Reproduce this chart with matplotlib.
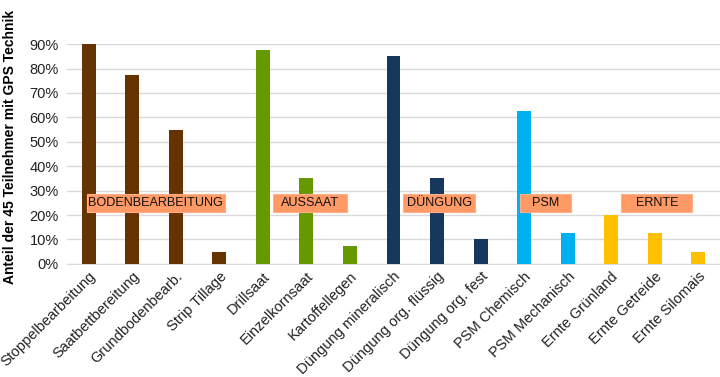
import matplotlib
matplotlib.use("Agg")
import matplotlib.pyplot as plt
from matplotlib.ticker import FuncFormatter
from matplotlib.patches import Rectangle

plt.rcParams['font.family'] = ['Liberation Sans', 'DejaVu Sans']

categories = ["Stoppelbearbeitung", "Saatbettbereitung", "Grundbodenbearb.", "Strip Tillage",
              "Drillsaat", "Einzelkornsaat", "Kartoffellegen",
              "Düngung mineralisch", "Düngung org. flüssig", "Düngung org. fest",
              "PSM Chemisch", "PSM Mechanisch",
              "Ernte Grünland", "Ernte Getreide", "Ernte Silomais"]
values = [0.90, 0.775, 0.55, 0.05,
          0.875, 0.35, 0.075,
          0.85, 0.35, 0.10,
          0.625, 0.125,
          0.20, 0.125, 0.05]
groups = ["BODENBEARBEITUNG", "AUSSAAT", "DÜNGUNG", "PSM", "ERNTE"]
group_sizes = [4, 3, 3, 2, 3]
group_colors = ["#663300", "#669900", "#17375E", "#00B0F0", "#FFC000"]
group_label_x = [1.54, 5.08, 8.05, 10.49, 13.05]
group_box_w = [3.17, 1.70, 1.66, 1.17, 1.63]
group_label_y = 0.25
box_h = 0.074

colors = []
for c, n in zip(group_colors, group_sizes):
    colors += [c] * n

fig = plt.figure(figsize=(7.2, 3.77), dpi=100)
ax = fig.add_axes([0.093, 0.30, 0.907, 0.583])

x = list(range(len(categories)))
ax.bar(x, values, width=0.32, color=colors, zorder=3)

ax.set_xlim(-0.5, len(categories) - 0.5)
ax.set_ylim(0, 0.9)
ax.set_yticks([i / 10 for i in range(10)])
ax.yaxis.set_major_formatter(FuncFormatter(lambda v, p: f"{v*100:.0f}%"))
ax.grid(axis='y', color='#D9D9D9', linewidth=1, zorder=0)
ax.set_axisbelow(True)
for s in ['top', 'right', 'left']:
    ax.spines[s].set_visible(False)
ax.spines['bottom'].set_color('#D9D9D9')
ax.tick_params(axis='both', length=0, labelsize=10.5, colors='#222222')
ax.tick_params(axis='y', pad=6)
ax.set_xticks(x)
ax.set_xticklabels(categories, rotation=45, ha='right', rotation_mode='anchor')
ax.tick_params(axis='x', pad=4)

ax.set_ylabel("Anteil der 45 Teilnehmer mit GPS Technik", fontsize=10,
              fontweight='bold')
ax.yaxis.set_label_coords(-0.077, 0.53)

for g, gx, gw in zip(groups, group_label_x, group_box_w):
    ax.add_patch(Rectangle((gx - gw / 2, group_label_y - box_h / 2), gw, box_h,
                           facecolor='#FF9966', edgecolor='#FFB08A', linewidth=0.8,
                           zorder=5))
    ax.text(gx, group_label_y, g, ha='center', va='center', fontsize=9.1,
            color='#111111', zorder=6)

fig.savefig("out.png", dpi=100)
